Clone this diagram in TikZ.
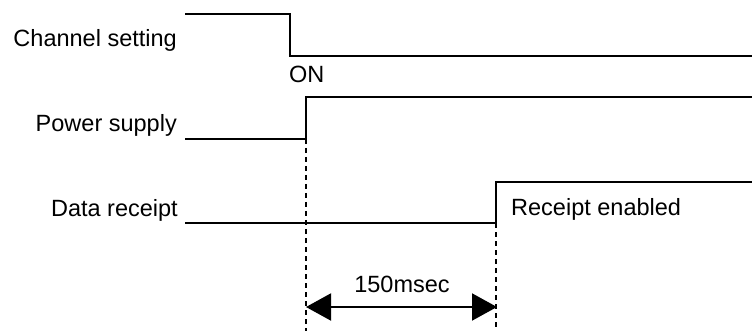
\documentclass[tikz,border=0pt]{standalone}
\usepackage{fontspec}
\setmainfont{Liberation Sans}
\usetikzlibrary{arrows.meta}
\begin{document}
\begin{tikzpicture}[x=1pt,y=-1pt,
  lbl/.style={inner sep=0pt,font=\fontsize{23.5}{28}\selectfont},
  wave/.style={line width=2pt,line join=miter},
  guide/.style={line width=2pt,dash pattern=on 5pt off 4pt},
  span/.style={line width=2pt,{Triangle[length=25pt,width=27pt]}-{Triangle[length=25pt,width=27pt]}}]
\useasboundingbox (0,0) rectangle (752,331);
% labels
\node[lbl,anchor=base east] (chl) at (177,47) {Channel setting};
\node[lbl,anchor=base east] (pwl) at (177,132) {Power supply};
\node[lbl,anchor=base east] (drl) at (178,217) {Data receipt};
\node[lbl,anchor=base west] (on) at (289,83) {ON};
\node[lbl,anchor=base west] (re) at (511,215) {Receipt enabled};
\node[lbl,anchor=base] (ms) at (402,292) {150msec};
% channel setting waveform
\coordinate (c0) at (185,14);
\coordinate (c1) at (290,14);
\coordinate (c2) at (290,56);
\coordinate (c3) at (752,56);
\draw[wave] (c0) -- (c1) -- (c2) -- (c3);
% power supply waveform
\coordinate (p0) at (185,139);
\coordinate (p1) at (306,139);
\coordinate (p2) at (306,97);
\coordinate (p3) at (752,97);
\draw[wave] (p0) -- (p1) -- (p2) -- (p3);
% data receipt waveform
\coordinate (d0) at (185,223);
\coordinate (d1) at (496,223);
\coordinate (d2) at (496,182);
\coordinate (d3) at (752,182);
\draw[wave] (d0) -- (d1) -- (d2) -- (d3);
% guides
\coordinate (g1) at (306,331);
\coordinate (g2) at (496,331);
\draw[guide] (p1) -- (g1);
\draw[guide] (d1) -- (g2);
% span arrow
\coordinate (a1) at (306,307);
\coordinate (a2) at (497,307);
\draw[span] (a1) -- (a2);
\end{tikzpicture}
\end{document}
